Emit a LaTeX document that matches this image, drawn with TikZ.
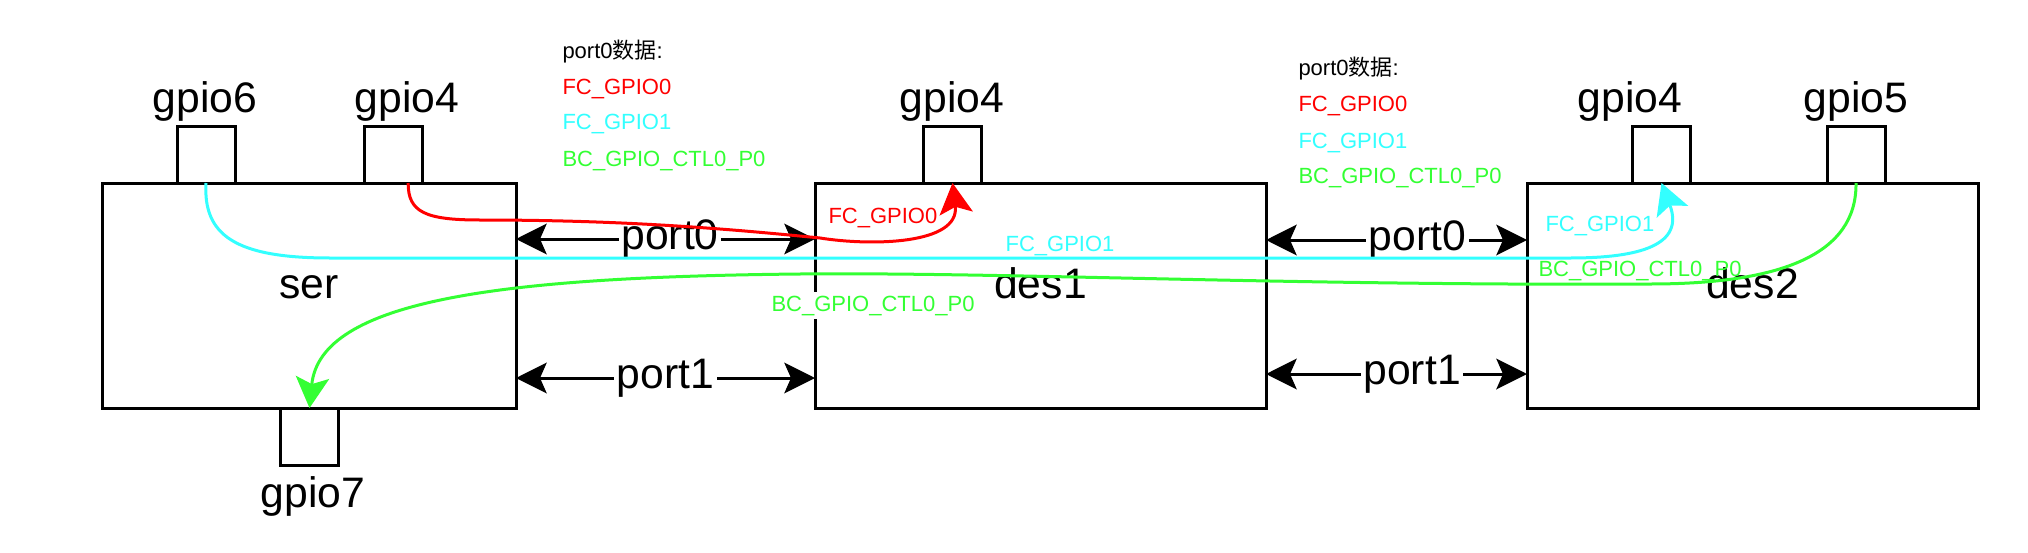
\documentclass[tikz,border=0pt]{standalone}
\usepackage{fontspec}
\setmainfont{Liberation Sans}
\newfontfamily\cjk{Noto Sans CJK SC}
\usetikzlibrary{arrows.meta}

\newcommand\lblfont{\fontsize{32}{38}\selectfont}
\newcommand\smlfont{\fontsize{16.5}{20}\selectfont}
\definecolor{fcred}{RGB}{255,0,0}
\definecolor{fccyan}{RGB}{51,255,255}
\definecolor{bcgreen}{RGB}{51,255,51}

\tikzset{every picture/.style={line width=2.25pt},
  chip/.style={draw, inner sep=0pt, outer sep=0pt, minimum height=168.75pt, text height=0.72em, text depth=0.21em, font=\lblfont},
  pin/.style={draw, inner sep=0pt, outer sep=0pt, minimum width=43.5pt, minimum height=42.75pt},
  pinlbl/.style={anchor=base, inner sep=0.75pt, font=\lblfont},
  port/.style={{Stealth[length=23pt,width=23pt,inset=5pt]}-{Stealth[length=23pt,width=23pt,inset=5pt]}},
  portlbl/.style={fill=white, inner xsep=2pt, inner ysep=0.75pt, font=\lblfont},
  sig/.style={-{Stealth[length=23pt,width=25pt,inset=5pt]}},
  siglbl/.style={inner sep=0.75pt, font=\smlfont}
}

\begin{document}
\begin{tikzpicture}[x=0.75pt,y=0.75pt,yscale=-1,xscale=1]
\path[use as bounding box, fill=white] (0,0) rectangle (2028,553);

%Shape: Rectangle [ser, des1, des2]
\node[chip, minimum width=310.5pt] (ser) at (309,295.5) {ser};
\node[chip, minimum width=338.25pt] (des1) at (1040.5,295.5) {des1};
\node[chip, minimum width=338.25pt] (des2) at (1752.5,295.5) {des2};

%Shape: Rectangle [pins]
\node[pin] (sg6) at (206,154.5) {};
\node[pin] (sg4) at (393.5,154.5) {};
\node[pin] (sg7) at (309.5,436.5) {};
\node[pin] (d1g4) at (952.5,154.5) {};
\node[pin] (d2g4) at (1661.5,154.5) {};
\node[pin] (d2g5) at (1856,154.5) {};

% Text Node
\node[pinlbl] (sg6lbl) at (205,112) {gpio6};
% Text Node
\node[pinlbl] (sg4lbl) at (407,112) {gpio4};
% Text Node
\node[pinlbl] (sg7lbl) at (313,507) {gpio7};
% Text Node
\node[pinlbl] (d1g4lbl) at (952,112) {gpio4};
% Text Node
\node[pinlbl] (d2g4lbl) at (1630,112) {gpio4};
% Text Node
\node[pinlbl] (d2g5lbl) at (1856,112) {gpio5};

%Straight Lines [ports]
\draw[port] (ser.east |- 0,239) -- (des1.west |- 0,239) node[portlbl, pos=0.515] (p0a) {port0};
\draw[port] (ser.east |- 0,378) -- (des1.west |- 0,378) node[portlbl, pos=0.5] (p1a) {port1};
\draw[port] (des1.east |- 0,240) -- (des2.west |- 0,240) node[portlbl, pos=0.58] (p0b) {port0};
\draw[port] (des1.east |- 0,374) -- (des2.west |- 0,374) node[portlbl, pos=0.56] (p1b) {port1};

%Curve Lines [FC_GPIO0, FC_GPIO1, BC_GPIO_CTL0_P0]
\draw[sig, fcred] ([xshift=11pt]sg4.south) .. controls (408,212) and (425,220) .. (480,220) .. controls (620,220) and (720,228) .. (820,238) .. controls (870,246) and (960,245) .. (d1g4.south);
\draw[sig, fccyan] (sg6.south) .. controls (203,235) and (235,258) .. (330,258) -- (1570,258) .. controls (1640,258) and (1685,245) .. (d2g4.south);
\draw[sig, bcgreen] (d2g5.south) .. controls (1857,255) and (1780,284) .. (1650,284) .. controls (1300,286) and (1000,272) .. (800,274) .. controls (500,277) and (320,300) .. (sg7.north);

% Text Node
\node[siglbl, fcred, anchor=base west] (fc0lbl) at (826,223) {FC\_GPIO0};
% Text Node
\node[siglbl, fccyan, anchor=base] (fc1lbl) at (1060,251) {FC\_GPIO1};
% Text Node
\node[siglbl, bcgreen, anchor=base, fill=white, inner sep=3pt] (bclbl) at (873,311) {BC\_GPIO\_CTL0\_P0};
% Text Node
\node[siglbl, fccyan, anchor=base west] (fc1lblb) at (1543,231) {FC\_GPIO1};
% Text Node
\node[siglbl, bcgreen, anchor=base west] (bclblb) at (1536,276) {BC\_GPIO\_CTL0\_P0};

% Text Node
\node[siglbl, anchor=base west] (lgA) at (560,58) {port0{\cjk 数据}:};
\node[siglbl, fcred, anchor=base west] (lgA0) at (560,94) {FC\_GPIO0};
\node[siglbl, fccyan, anchor=base west] (lgA1) at (560,129) {FC\_GPIO1};
\node[siglbl, bcgreen, anchor=base west] (lgA2) at (560,166) {BC\_GPIO\_CTL0\_P0};
% Text Node
\node[siglbl, anchor=base west] (lgB) at (1296,75) {port0{\cjk 数据}:};
\node[siglbl, fcred, anchor=base west] (lgB0) at (1296,111) {FC\_GPIO0};
\node[siglbl, fccyan, anchor=base west] (lgB1) at (1296,148) {FC\_GPIO1};
\node[siglbl, bcgreen, anchor=base west] (lgB2) at (1296,183) {BC\_GPIO\_CTL0\_P0};

\end{tikzpicture}
\end{document}
